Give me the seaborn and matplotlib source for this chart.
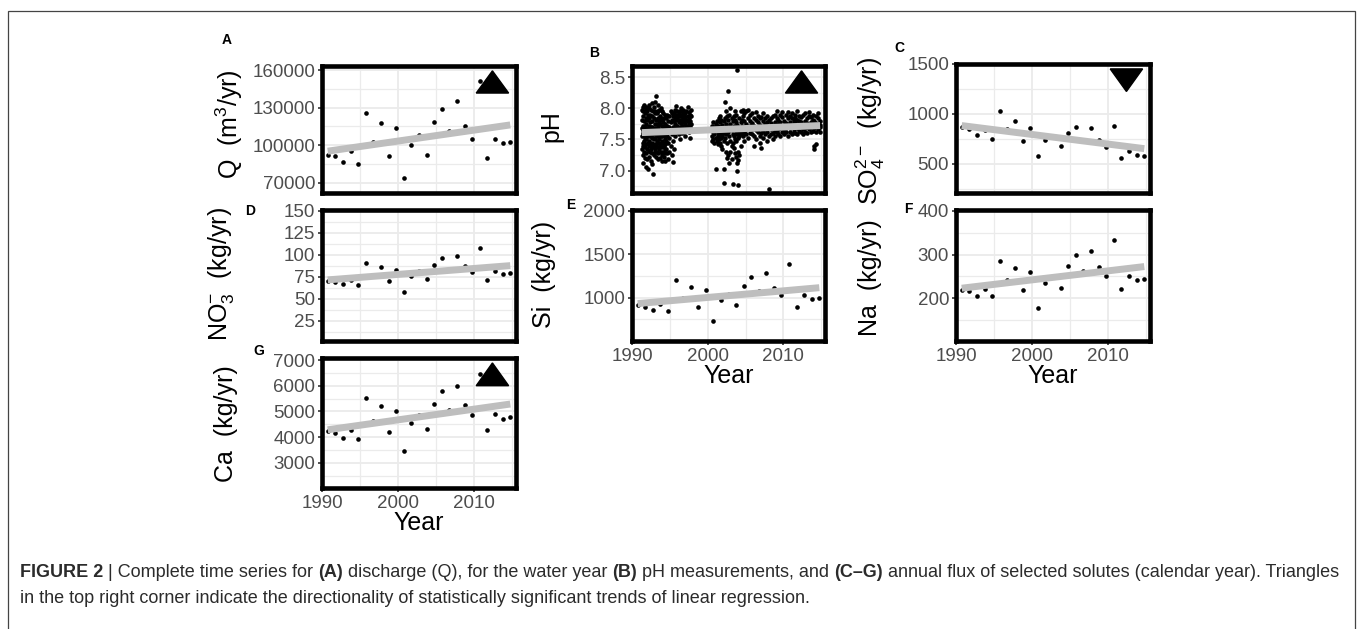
import numpy as np
import matplotlib
matplotlib.use('Agg')
import matplotlib.pyplot as plt
from matplotlib.patches import Polygon, Rectangle
from matplotlib.font_manager import FontProperties
import seaborn as sns

# === DATA ===
# annual values, one per water / calendar year, plotted at 1 October
years = list(range(1990, 2015))

discharge = [92500, 91200, 86700, 95200, 85300, 125900, 102700, 117300, 91200, 113300,
             73900, 100500, 108500, 92500, 118100, 128500, 111700, 135200, 115200, 105300,
             151200, 89900, 105300, 102100, 102700]
so4 = [874, 847, 790, 837, 750, 1034, 847, 934, 734, 864,
       577, 744, 780, 677, 810, 867, 744, 864, 737, 667,
       877, 560, 627, 594, 585]
no3 = [70.4, 69.3, 66.3, 71.6, 65.9, 91.3, 77.3, 86.4, 70.1, 83.0,
       57.9, 75.8, 81.1, 72.3, 87.9, 95.9, 84.1, 98.6, 87.5, 80.7,
       107.3, 71.6, 81.1, 78.0, 79.2]
si = [915, 896, 854, 931, 846, 1204, 1000, 1127, 892, 1089,
      731, 969, 1042, 915, 1135, 1239, 1077, 1281, 1116, 1027,
      1393, 892, 1027, 985, 1000]
na = [219, 216, 205, 222, 205, 286, 241, 270, 218, 261,
      178, 235, 252, 224, 273, 300, 262, 309, 272, 252,
      334, 220, 252, 242, 244]
ca = [4221, 4143, 3961, 4286, 3935, 5506, 4636, 5195, 4195, 5026,
      3442, 4545, 4870, 4325, 5286, 5779, 5052, 5974, 5247, 4870,
      6468, 4273, 4883, 4701, 4766]

# pH grab samples: decimal date -> readings taken around that date
ph_dates = [
    1991.3, 1991.4, 1991.5, 1991.6, 1991.7, 1991.8, 1991.9, 1992.0, 1992.1, 1992.2,
    1992.3, 1992.4, 1992.5, 1992.6, 1992.7, 1992.8, 1992.9, 1993.0, 1993.1, 1993.2,
    1993.3, 1993.4, 1993.5, 1993.6, 1993.7, 1993.8, 1993.9, 1994.0, 1994.1, 1994.2,
    1994.3, 1994.4,
    1994.5, 1994.65, 1994.8, 1994.95, 1995.1, 1995.25, 1995.4, 1995.55, 1995.7, 1995.85,
    1996.0, 1996.15, 1996.3, 1996.45, 1996.6, 1996.75, 1996.9, 1997.05, 1997.2, 1997.35,
    1997.5, 1997.65, 1997.8,
    2000.6, 2000.75, 2000.9, 2001.05, 2001.2, 2001.35, 2001.5, 2001.65, 2001.8, 2001.95,
    2002.1, 2002.25, 2002.4, 2002.55, 2002.7, 2002.85, 2003.0, 2003.15, 2003.3, 2003.45,
    2003.6, 2003.75, 2003.9, 2004.05, 2004.2, 2004.35, 2004.5,
    2004.6, 2004.85, 2005.1, 2005.35, 2005.6, 2005.85, 2006.1, 2006.35, 2006.6, 2006.85,
    2007.1, 2007.35, 2007.6, 2007.85, 2008.1, 2008.35, 2008.6, 2008.85, 2009.1, 2009.35,
    2009.6, 2009.85, 2010.1, 2010.35, 2010.6, 2010.85, 2011.1, 2011.35, 2011.6, 2011.85,
    2012.1, 2012.35, 2012.6, 2012.85, 2013.1, 2013.35, 2013.6, 2013.85, 2014.1, 2014.35,
    2014.6, 2014.85,
]
ph_values = [
    [7.55, 7.82, 7.35, 7.98, 7.68], [7.45, 7.72, 8.02, 7.25, 7.60], [7.88, 7.40, 7.65, 7.12, 7.95],
    [7.58, 7.30, 7.80, 8.05, 7.48], [7.70, 7.38, 7.92, 7.52, 7.20], [7.62, 7.85, 7.42, 7.05, 7.99],
    [7.50, 7.75, 7.28, 8.02, 7.66], [7.82, 7.55, 7.35, 7.96, 7.18], [7.45, 7.68, 7.90, 7.03, 7.60],
    [7.72, 7.32, 8.00, 7.55, 7.40], [7.60, 7.85, 7.22, 7.48, 8.05], [7.90, 7.42, 7.66, 7.30, 7.78],
    [7.55, 7.98, 7.35, 7.70, 7.15], [7.80, 7.45, 7.62, 8.08, 7.28], [7.52, 7.88, 7.38, 7.70, 7.10],
    [7.65, 7.40, 7.95, 6.95, 7.58], [7.85, 7.50, 7.25, 8.02, 7.62], [7.42, 7.75, 7.58, 7.92, 7.30],
    [7.68, 7.95, 7.35, 7.52, 8.10], [7.58, 7.82, 8.20, 7.40, 7.22], [7.75, 7.48, 7.92, 7.30, 7.62],
    [7.55, 7.85, 7.38, 8.05, 7.18], [7.70, 7.45, 7.95, 7.28, 7.60], [7.50, 7.80, 7.35, 7.98, 7.65],
    [7.62, 7.40, 7.88, 7.20, 7.75], [7.85, 7.55, 7.30, 8.00, 7.45], [7.48, 7.72, 7.95, 7.25, 7.60],
    [7.65, 7.38, 7.82, 7.15, 7.55], [7.78, 7.45, 7.62, 7.30, 7.92], [7.58, 7.85, 7.40, 7.22, 7.70],
    [7.68, 7.42, 7.90, 7.28, 7.55], [7.50, 7.75, 7.35, 7.62, 7.15],
    [7.35, 7.62, 7.85, 7.48], [7.72, 7.28, 7.55, 7.90], [7.45, 7.80, 7.62, 7.18],
    [7.88, 7.52, 7.30, 7.70], [7.65, 7.40, 7.95, 7.78], [7.82, 7.58, 7.25, 7.92],
    [7.70, 7.14, 7.88, 7.48], [7.92, 7.65, 7.35, 7.80], [7.75, 7.98, 7.55, 7.85],
    [7.68, 7.90, 7.82, 8.04], [7.85, 7.62, 7.95, 7.72], [7.78, 7.92, 7.58, 7.88],
    [7.95, 7.70, 7.82, 7.50], [7.88, 7.65, 8.00, 7.76], [7.72, 7.90, 7.82, 7.60],
    [7.85, 7.98, 7.68, 7.92], [7.78, 7.62, 7.90, 7.84], [7.92, 7.75, 7.55, 7.86],
    [7.70, 7.95, 7.82, 7.64], [7.88, 7.72, 8.02, 7.80], [7.62, 7.85, 7.76, 7.94],
    [7.80, 7.52, 7.90, 7.70], [7.75, 7.88, 7.66, 7.98],
    [7.55, 7.72, 7.48], [7.62, 7.78, 7.50], [7.58, 7.70, 7.45], [7.65, 7.52, 7.75, 7.03],
    [7.48, 7.68, 7.80], [7.60, 7.55, 7.72, 7.42], [7.70, 7.50, 7.62, 7.85],
    [7.58, 7.78, 7.45, 7.88], [7.66, 7.52, 7.82, 7.40], [7.55, 7.74, 7.62, 7.35],
    [7.80, 7.60, 7.48, 7.02, 6.80], [7.68, 7.52, 7.85, 8.10], [7.58, 7.75, 7.30, 7.95],
    [7.70, 7.45, 7.88, 7.20], [7.62, 7.82, 7.25, 8.28], [7.55, 7.90, 7.12, 7.68],
    [7.75, 7.48, 8.00, 7.30], [7.65, 7.85, 7.40, 7.18], [7.58, 7.80, 7.45, 6.79],
    [7.72, 7.55, 7.88, 7.36], [7.68, 7.82, 7.50, 7.95, 7.28], [7.60, 7.78, 7.90, 7.48, 7.22],
    [7.74, 7.58, 8.61, 7.00, 7.12], [7.70, 7.52, 6.77, 7.17, 7.30], [7.62, 7.85, 7.55, 7.25],
    [7.78, 7.60, 7.95, 7.40], [7.66, 7.82, 7.58, 7.72],
    [7.70, 7.88, 7.55, 7.97], [7.62, 7.80, 7.48, 7.92], [7.75, 7.58, 7.95, 7.66],
    [7.68, 7.85, 7.52, 7.98], [7.80, 7.60, 7.72, 7.90], [7.58, 7.76, 7.92, 7.66],
    [7.72, 7.55, 7.85, 7.40], [7.65, 7.82, 7.50, 7.94], [7.78, 7.62, 7.70, 7.88],
    [7.56, 7.74, 7.84, 7.45], [7.70, 7.60, 7.86, 7.36], [7.64, 7.80, 7.52, 7.92],
    [7.75, 7.58, 7.68, 7.85], [7.62, 7.78, 7.48, 7.88], [7.70, 7.55, 7.82, 6.71],
    [7.66, 7.84, 7.58, 7.76], [7.72, 7.60, 7.88, 7.50], [7.64, 7.78, 7.56, 7.90],
    [7.70, 7.85, 7.62, 7.95], [7.58, 7.75, 7.82, 7.66], [7.68, 7.90, 7.55, 7.78],
    [7.72, 7.62, 7.86, 7.94], [7.65, 7.80, 7.58, 7.74], [7.76, 7.62, 7.90, 7.68],
    [7.70, 7.84, 7.56, 7.94], [7.62, 7.78, 7.68, 7.88], [7.74, 7.58, 7.84, 7.92],
    [7.66, 7.80, 7.62, 7.72], [7.76, 7.90, 7.60, 7.84], [7.68, 7.82, 7.58, 7.95],
    [7.72, 7.64, 7.88, 7.80], [7.62, 7.78, 7.86, 7.70], [7.74, 7.90, 7.66, 7.58],
    [7.80, 7.68, 7.92, 7.62], [7.70, 7.84, 7.60, 7.76], [7.66, 7.88, 7.74, 7.94],
    [7.78, 7.62, 7.86, 7.70], [7.72, 7.90, 7.64, 7.82], [7.68, 7.80, 7.40, 7.35],
    [7.76, 7.62, 7.88, 7.42], [7.70, 7.84, 7.66, 7.92], [7.74, 7.62, 7.80, 7.70],
]

# direction of significant linear trend per panel
trends = {'A': 'up', 'B': 'up', 'C': 'down', 'G': 'up'}

caption_line1 = [("FIGURE 2", True), (" | Complete time series for ", False), ("(A)", True),
                 (" discharge (Q), for the water year ", False), ("(B)", True),
                 (" pH measurements, and ", False), ("(C\u2013G)", True),
                 (" annual flux of selected solutes (calendar year). Triangles", False)]
caption_line2 = [("in the top right corner indicate the directionality of statistically "
                  "significant trends of linear regression.", False)]

# === STYLE ===
sns.set_theme(style='white')
plt.rcParams['font.family'] = ['Liberation Sans', 'DejaVu Sans']
plt.rcParams['mathtext.fontset'] = 'custom'
plt.rcParams['mathtext.rm'] = 'Liberation Sans'
plt.rcParams['mathtext.it'] = 'Liberation Sans:italic'
plt.rcParams['mathtext.bf'] = 'Liberation Sans:bold'

W, H = 1357, 629
fig = plt.figure(figsize=(W / 100, H / 100), dpi=100)
fig.patch.set_facecolor('white')

GRID = '#EBEBEB'
TICK_COLOR = '#4D4D4D'
LINE_GREY = '#BEBEBE'
TICK_SIZE = 13.5
LABEL_SIZE = 18


def px_axes(left, top, right, bottom):
    return fig.add_axes([left / W, 1 - bottom / H, (right - left) / W, (bottom - top) / H])


def draw_panel(ax, x, y, ylabel, yticks, ylim, show_x):
    sns.scatterplot(x=x, y=y, ax=ax, color='black', s=11, linewidth=0, zorder=3)
    sns.regplot(x=np.asarray(x), y=np.asarray(y), ax=ax, scatter=False, ci=None,
                color=LINE_GREY, line_kws={'lw': 5, 'zorder': 4, 'solid_capstyle': 'butt'})
    ax.set_xticks([1990, 2000, 2010])
    ax.set_xticks([1995, 2005, 2015], minor=True)
    ax.set_yticks(yticks)
    step = yticks[1] - yticks[0]
    ax.set_yticks([t - step / 2 for t in yticks] + [yticks[-1] + step / 2], minor=True)
    # limits after the ticks, so off-range minor ticks don't stretch the view
    ax.set_xlim(1990, 2015.5)
    ax.set_ylim(*ylim)
    ax.grid(which='major', color=GRID, lw=1.3)
    ax.grid(which='minor', color=GRID, lw=0.9)
    ax.set_axisbelow(True)
    for sp in ax.spines.values():
        sp.set_visible(True)
        sp.set_color('black')
        sp.set_linewidth(3.3)
    ax.tick_params(which='major', length=3, width=1.2, color='#333333',
                   labelsize=TICK_SIZE, labelcolor=TICK_COLOR, pad=2,
                   left=True, bottom=show_x, labelbottom=show_x)
    ax.tick_params(which='minor', length=0)
    ax.set_ylabel(ylabel, fontsize=LABEL_SIZE, color='black', ha='center', va='center')
    if show_x:
        ax.set_xlabel('Year', fontsize=LABEL_SIZE, labelpad=-1, color='black')
    else:
        ax.set_xlabel('')


def trend_marker(ax, direction):
    x0, x1, y0, y1 = 0.795, 0.962, 0.787, 0.962
    xm = (x0 + x1) / 2
    if direction == 'up':
        pts = [(x0, y0), (x1, y0), (xm, y1)]
    else:
        pts = [(x0, y1), (x1, y1), (xm, y0)]
    ax.add_patch(Polygon(pts, closed=True, transform=ax.transAxes, color='black',
                         zorder=6, clip_on=False))


water_x = [yr + 0.75 for yr in years]
ph_x = [d for d, vals in zip(ph_dates, ph_values) for _ in vals]
ph_y = [v for vals in ph_values for v in vals]

# panel boxes in pixels: left, top, right, bottom; y-title centre; letter corner
panels = [
    ('A', (322, 66, 516, 193), water_x, discharge, r'Q  (m$^3$/yr)',
     [70000, 100000, 130000, 160000], (61800, 163200), False, (229, 124), (222, 33)),
    ('B', (632, 66, 825, 193), ph_x, ph_y, 'pH',
     [7.0, 7.5, 8.0, 8.5], (6.64, 8.68), False, (551, 126), (589, 46)),
    ('C', (956, 64, 1150, 193), water_x, so4, r'SO$_4^{2-}$  (kg/yr)',
     [500, 1000, 1500], (210, 1500), False, (870, 131), (894, 41)),
    ('D', (322, 210, 516, 341), water_x, no3, r'NO$_3^{-}$  (kg/yr)',
     [25, 50, 75, 100, 125, 150], (1.9, 151.1), False, (221, 274), (245, 204)),
    ('E', (632, 210, 825, 341), water_x, si, 'Si  (kg/yr)',
     [1000, 1500, 2000], (500, 2011), True, (544, 274), (566, 198)),
    ('F', (956, 210, 1150, 341), water_x, na, 'Na  (kg/yr)',
     [200, 300, 400], (102, 402), True, (870, 278), (904, 202)),
    ('G', (322, 358, 516, 488), water_x, ca, 'Ca  (kg/yr)',
     [3000, 4000, 5000, 6000, 7000], (2014, 7078), True, (226, 424), (253, 344)),
]

for letter, box, x, y, ylabel, yticks, ylim, show_x, title_xy, lab_pos in panels:
    ax = px_axes(*box)
    draw_panel(ax, x, y, ylabel, yticks, ylim, show_x)
    left, top, right, bottom = box
    ax.yaxis.set_label_coords((title_xy[0] - left) / (right - left),
                              (bottom - title_xy[1]) / (bottom - top))
    if letter in trends:
        trend_marker(ax, trends[letter])
    fig.text(lab_pos[0] / W, 1 - lab_pos[1] / H, letter, fontsize=10, fontweight='bold',
             ha='left', va='top', color='black')

# === Caption ===
CAPTION_COLOR = '#2B2B2B'
CAPTION_SIZE = 13.0
renderer = fig.canvas.get_renderer()


def draw_rich_line(x_px, y_px, parts):
    for text, bold in parts:
        weight = 'bold' if bold else 'normal'
        fig.text(x_px / W, 1 - y_px / H, text, fontsize=CAPTION_SIZE, fontweight=weight,
                 color=CAPTION_COLOR, ha='left', va='baseline')
        fp = FontProperties(family='Liberation Sans', size=CAPTION_SIZE, weight=weight)
        w_full = renderer.get_text_width_height_descent('|' + text + '|', fp, ismath=False)[0]
        w_bars = renderer.get_text_width_height_descent('||', fp, ismath=False)[0]
        x_px += w_full - w_bars


draw_rich_line(20, 577, caption_line1)
draw_rich_line(20, 603, caption_line2)

# thin frame around the figure panel (bottom edge runs off the page)
fig.add_artist(Rectangle((8 / W, -0.05), (1355 - 8) / W, 1 - 11 / H + 0.05,
                         transform=fig.transFigure, fill=False, ec='#444444', lw=0.9))

fig.savefig('out.png', dpi=100)
